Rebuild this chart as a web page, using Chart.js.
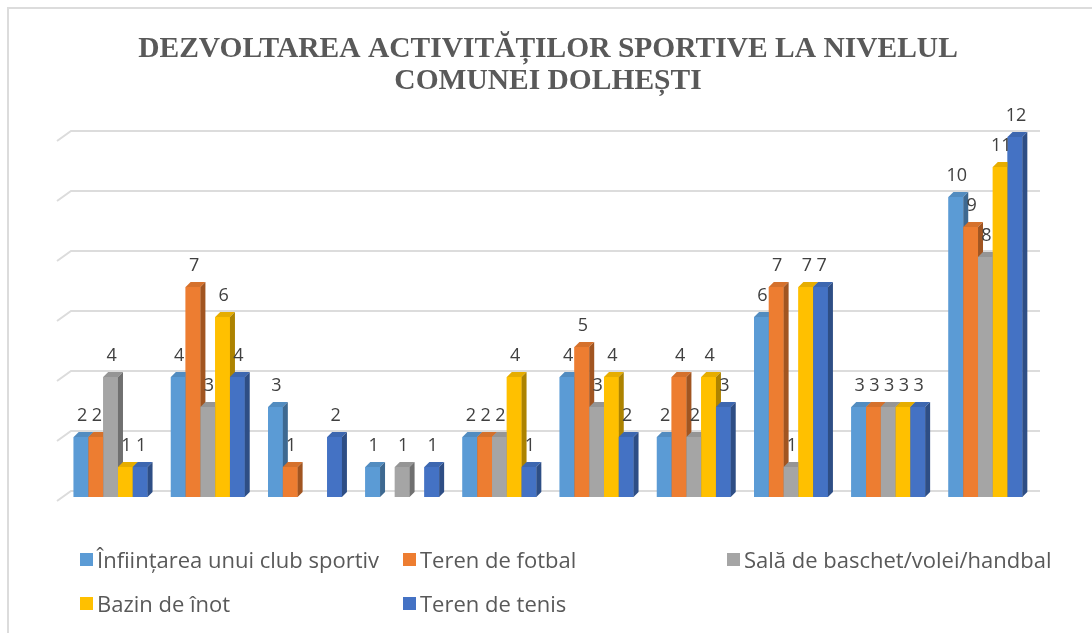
<!DOCTYPE html>
<html>
<head>
<meta charset="utf-8">
<script src="https://cdn.jsdelivr.net/npm/chart.js@4/dist/chart.umd.min.js"></script>
<style>
  html, body { margin: 0; padding: 0; background: #fff; }
  #wrap { position: relative; width: 1092px; height: 633px; overflow: hidden; }
  #frame { position: absolute; left: 7px; top: 7px; right: -10px; bottom: -10px;
           border-left: 2px solid #dcdcdc; border-top: 2px solid #dcdcdc; pointer-events: none; }
  #legend { position: absolute; left: 80px; top: 546px; display: grid;
            grid-template-columns: 323px 324px 360px; row-gap: 18px;
            font-family: "Open Sans", sans-serif; font-size: 22px; color: #595959; }
  #legend .item { display: flex; align-items: center; height: 26px; white-space: nowrap; }
  #legend .box { width: 13px; height: 13px; margin-right: 4px; flex: none; }
</style>
</head>
<body>
<div id="wrap">
  <canvas id="chart" width="1092" height="633"></canvas>
  <div id="frame"></div>
  <div id="legend"></div>
</div>
<script>
// groups (no axis labels shown)
const categories = ['1', '2', '3', '4', '5', '6', '7', '8', '9', '10'];

const seriesNames = [
  'Înființarea unui club sportiv',
  'Teren de fotbal',
  'Sală de baschet/volei/handbal',
  'Bazin de înot',
  'Teren de tenis'
];
const club   = [2, 4, 3, 1, 2, 4, 2, 6, 3, 10];
const fotbal = [2, 7, 1, null, 2, 5, 4, 7, 3, 9];
const sala   = [4, 3, null, 1, 2, 3, 2, 1, 3, 8];
const bazin  = [1, 6, null, null, 4, 4, 4, 7, 3, 11];
const tenis  = [1, 4, 2, 1, 1, 2, 3, 7, 3, 12];

const colors = ['#5B9BD5', '#ED7D31', '#A5A5A5', '#FFC000', '#4472C4'];
const yTicks = [0, 2, 4, 6, 8, 10, 12];

const DX = 5, DY = 5; // depth of the 3d faces

function shade(hex, f) {
  const n = parseInt(hex.slice(1), 16);
  const r = Math.round(((n >> 16) & 255) * f);
  const g = Math.round(((n >> 8) & 255) * f);
  const b = Math.round((n & 255) * f);
  return `rgb(${r},${g},${b})`;
}

// back wall gridlines with the little floor stub on the left
const wallGrid = {
  id: 'wallGrid',
  beforeDatasetsDraw(chart) {
    const { ctx, chartArea, scales } = chart;
    ctx.save();
    ctx.strokeStyle = '#dcdcdc';
    ctx.lineWidth = 2;
    yTicks.forEach(v => {
      const y = Math.round(scales.y.getPixelForValue(v)) - DY - 1;
      ctx.beginPath();
      ctx.moveTo(chartArea.left - 5, y + 10);
      ctx.lineTo(chartArea.left + 9, y);
      ctx.lineTo(chartArea.right + 6, y);
      ctx.stroke();
    });
    ctx.restore();
  }
};

// redraw each group left to right so every bar covers its neighbour's side face
const bars3d = {
  id: 'bars3d',
  afterDatasetsDraw(chart) {
    const { ctx } = chart;
    const metas = chart.data.datasets.map((d, i) => chart.getDatasetMeta(i));
    ctx.save();
    categories.forEach((c, j) => {
      metas.forEach((meta, i) => {
        const v = chart.data.datasets[i].data[j];
        if (v == null) return;
        const bar = meta.data[j];
        const { x, y, base, width } = bar.getProps(['x', 'y', 'base', 'width'], true);
        const l = x - width / 2, r = x + width / 2;
        const col = colors[i];
        ctx.fillStyle = col;
        ctx.fillRect(l, y, width, base - y);
        // top face
        ctx.fillStyle = shade(col, 0.9);
        ctx.beginPath();
        ctx.moveTo(l, y);
        ctx.lineTo(l + DX, y - DY);
        ctx.lineTo(r + DX, y - DY);
        ctx.lineTo(r, y);
        ctx.closePath();
        ctx.fill();
        // right side
        ctx.fillStyle = shade(col, 0.68);
        ctx.beginPath();
        ctx.moveTo(r, y);
        ctx.lineTo(r + DX, y - DY);
        ctx.lineTo(r + DX, base - DY);
        ctx.lineTo(r, base);
        ctx.closePath();
        ctx.fill();
      });
    });

    // value labels
    ctx.font = '18px "Open Sans", sans-serif';
    ctx.fillStyle = '#404040';
    ctx.textAlign = 'center';
    ctx.textBaseline = 'alphabetic';
    metas.forEach((meta, i) => {
      meta.data.forEach((bar, j) => {
        const v = chart.data.datasets[i].data[j];
        if (v == null) return;
        ctx.fillText(String(v), bar.x + 1, bar.y - 16);
      });
    });
    ctx.restore();
  }
};

const seriesData = [club, fotbal, sala, bazin, tenis];

const chart = new Chart(document.getElementById('chart'), {
  type: 'bar',
  data: {
    labels: categories,
    datasets: seriesData.map((d, i) => ({
      label: seriesNames[i],
      data: d,
      backgroundColor: colors[i],
      borderWidth: 0,
      barPercentage: 1.0,
      categoryPercentage: 0.76
    }))
  },
  options: {
    responsive: false,
    animation: false,
    layout: { padding: { left: 62, right: 58, top: 0, bottom: 136 } },
    plugins: {
      legend: { display: false },
      tooltip: { enabled: false },
      title: {
        display: true,
        text: ['DEZVOLTAREA ACTIVITĂȚILOR SPORTIVE LA NIVELUL', 'COMUNEI DOLHEȘTI'],
        color: '#595959',
        font: { family: '"Liberation Serif", serif', size: 29.5, weight: 'bold', lineHeight: 1.1 },
        padding: { top: 33, bottom: 39 }
      }
    },
    scales: {
      x: { display: false, grid: { display: false } },
      y: { display: false, min: 0, max: 12, grid: { display: false } }
    }
  },
  plugins: [wallGrid, bars3d]
});

// legend built from the chart's datasets
const legendEl = document.getElementById('legend');
chart.data.datasets.forEach((ds, i) => {
  const item = document.createElement('div');
  item.className = 'item';
  const box = document.createElement('span');
  box.className = 'box';
  box.style.background = ds.backgroundColor;
  const txt = document.createElement('span');
  txt.textContent = ds.label;
  item.appendChild(box);
  item.appendChild(txt);
  legendEl.appendChild(item);
});
</script>
</body>
</html>
